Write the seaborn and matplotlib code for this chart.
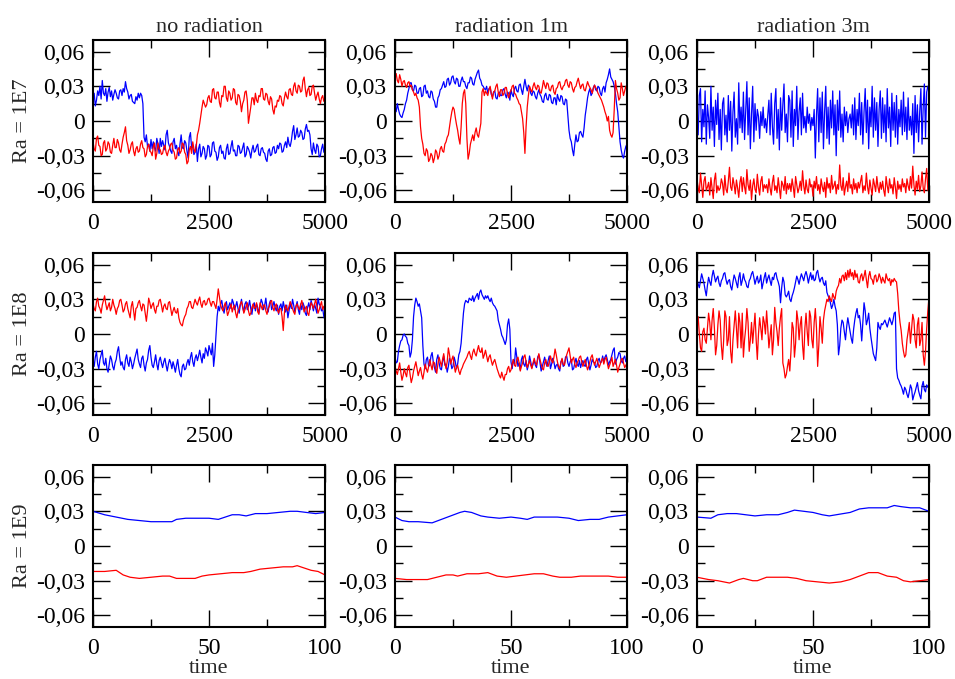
import numpy as np
import pandas as pd
import matplotlib
matplotlib.use("Agg")
import matplotlib.pyplot as plt
import seaborn as sns
from matplotlib.ticker import FixedLocator, FuncFormatter

sns.set_theme(style="ticks")
plt.rcParams["font.family"] = ["Liberation Serif", "DejaVu Serif"]

# -------------------------------------------------------------
# data (values in units of 1e-3)
# rows 1-2: samples evenly spaced over 0..5000 (20 per line = 500 time units)
# -------------------------------------------------------------
col_titles = ["no radiation", "radiation 1m", "radiation 3m"]
row_labels = ["Ra = 1E7", "Ra = 1E8", "Ra = 1E9"]

blue_1e7_norad = [
    20, 24, 13, 18, 26, 22, 30, 19, 35, 24, 22, 28, 17, 25, 29, 21, 26, 18, 23, 27,
    24, 20, 19, 26, 27, 22, 28, 25, 34, 28, 25, 19, 22, 23, 17, 16, 15, 21, 18, 24,
    20, 24, 22, 15, -14, -18, -12, -22, -20, -26, -16, -24, -18, -23, -26, -15, -20, -28, -15, -22,
    -17, -21, -25, -12, -8, -19, -22, -26, -28, -18, -15, -24, -21, -27, -30, -20, -12, -23, -24, -17,
    -19, -26, -32, -14, -10, -23, -22, -29, -27, -20, -35, -24, -20, -31, -28, -22, -24, -33, -30, -21,
    -22, -31, -29, -19, -18, -26, -27, -34, -31, -23, -21, -28, -26, -32, -33, -24, -20, -29, -28, -22,
    -17, -26, -25, -30, -30, -21, -22, -28, -27, -23, -19, -31, -29, -22, -24, -27, -32, -25, -21, -27,
    -26, -22, -20, -29, -30, -24, -23, -27, -28, -33, -35, -26, -24, -30, -29, -23, -22, -28, -27, -21,
    -24, -19, -20, -27, -26, -21, -18, -23, -14, -20, -22, -17, -9, -4, -16, -12, -6, -14, -13, -8,
    -10, -16, -15, -7, -3, -9, -8, -12, -24, -29, -19, -25, -28, -20, -22, -31, -30, -24, -20, -27,
    -24]
red_1e7_norad = [
    -18, -24, -26, -15, -13, -21, -22, -30, -29, -19, -17, -26, -24, -18, -20, -27, -28, -21, -15, -23,
    -23, -16, -19, -25, -27, -20, -14, -10, -5, -17, -21, -28, -25, -20, -18, -26, -30, -24, -22, -27,
    -26, -20, -17, -23, -24, -31, -29, -22, -20, -26, -27, -30, -22, -19, -33, -28, -19, -24, -25, -29,
    -28, -23, -21, -27, -30, -26, -24, -20, -19, -25, -27, -33, -32, -25, -23, -28, -26, -19, -20, -27,
    -29, -37, -35, -25, -22, -28, -18, -24, -27, -22, -12, -8, -2, 5, 12, 18, 15, 12, 14, 20,
    22, 17, 16, 27, 28, 20, 19, 25, 25, 16, 12, 22, 21, 30, 30, 20, 17, 26, 24, 18,
    20, 28, 27, 16, 14, 23, 22, 17, 8, 15, 18, 25, 26, 18, -2, 5, 12, 20, 20, 14,
    24, 18, 16, 22, 21, 28, 28, 19, 18, 24, 23, 17, 14, 21, 19, 10, 6, 13, 12, 18,
    17, 22, 21, 15, 13, 20, 25, 21, 19, 27, 28, 23, 22, 30, 33, 26, 24, 31, 30, 25,
    26, 35, 38, 28, 21, 27, 29, 22, 23, 30, 31, 24, 18, 22, 25, 19, 15, 20, 22, 17,
    19]

blue_1e7_rad1 = [
    12, 8, 15, 10, 6, 4, 3, 7, 10, 15, 18, 24, 28, 33, 33, 27, 26, 31, 30, 24,
    24, 28, 29, 21, 22, 30, 31, 24, 26, 21, 20, 26, 25, 19, 17, 12, 12, 20, 22, 27,
    28, 31, 34, 29, 30, 36, 37, 31, 33, 38, 39, 34, 32, 37, 36, 30, 30, 35, 38, 34,
    34, 30, 28, 33, 33, 38, 37, 32, 31, 36, 39, 42, 44, 37, 35, 31, 30, 28, 27, 30,
    24, 28, 29, 23, 21, 25, 26, 20, 19, 24, 25, 22, 22, 27, 28, 23, 20, 25, 24, 18,
    27, 23, 21, 28, 30, 26, 25, 31, 32, 27, 23, 30, 36, 30, 26, 31, 29, 24, 22, 26,
    25, 21, 19, 24, 27, 23, 21, 17, 16, 22, 24, 19, 18, 23, 22, 16, 15, 20, 20, 14,
    23, 19, 17, 22, 21, 15, 14, 19, 18, 5, -8, -15, -18, -25, -30, -20, -12, -18, -17, -10,
    -9, -12, -14, -6, 5, 12, 20, 25, 28, 22, 24, 29, 31, 27, 26, 30, 29, 24, 22, 28,
    30, 25, 33, 36, 40, 45, 38, 36, 34, 30, 24, 15, 8, -5, -18, -25, -30, -32, -26, -22,
    -20]
red_1e7_rad1 = [
    38, 41, 35, 33, 40, 36, 30, 34, 35, 31, 29, 33, 34, 30, 31, 27, 25, 22, 24, 20,
    18, 12, -5, -15, -20, -28, -30, -24, -26, -35, -33, -28, -30, -36, -32, -25, -27, -33, -30, -24,
    -22, -26, -27, -20, -18, -14, -12, -5, 2, 8, 12, 10, 3, -3, -8, -15, -20, -5, 15, 24,
    27, 15, -15, -33, -28, -20, -16, -12, -17, -10, -6, -12, -14, -8, -2, 25, 28, 22, 26, 24,
    22, 27, 30, 24, 19, 25, 26, 30, 32, 25, 21, 27, 27, 22, 24, 29, 29, 23, 20, 25,
    26, 30, 31, 24, 23, 20, 18, 15, 14, 8, 2, -10, -28, -5, 12, 22, 30, 27, 25, 30,
    33, 29, 27, 31, 30, 25, 24, 29, 35, 31, 28, 33, 32, 27, 26, 30, 31, 25, 23, 28,
    29, 33, 34, 29, 27, 30, 31, 35, 36, 31, 29, 34, 33, 28, 25, 29, 30, 34, 37, 32,
    28, 31, 32, 27, 26, 30, 34, 31, 29, 27, 24, 28, 31, 29, 27, 24, 22, 20, 18, 15,
    12, 8, 5, 0, 4, -8, -12, -14, -10, 10, 35, 28, 24, 18, 20, 33, 28, 22, 26, 30,
    28]

blue_1e7_rad3 = [
    5, -12, 22, 28, -18, 10, -5, 26, -20, 14, 3, -15, 30, -8, 12, -22, 18, -3, 24, -16,
    10, -25, 15, 20, -12, 5, -18, 22, -8, 17, -26, 8, 25, -14, 2, -20, 33, -6, 12, -10,
    25, -16, 8, 34, -12, 20, -24, 6, 30, -18, 15, -8, 10, 4, -15, 8, -4, 12, -6, 2,
    -10, 5, 18, -12, 24, -5, -20, 15, 28, -15, 10, -25, 20, -8, 14, 32, -10, 6, -18, 22,
    18, -14, 26, -22, 10, -4, 30, -16, 8, 20, -12, 24, -6, 4, -10, 12, -2, 6, -8, 3,
    -4, 10, -32, 5, 28, -18, 20, -10, 25, -24, 8, 30, -15, 12, -20, 18, -6, 26, -12, 14,
    -30, 18, -8, 26, -14, 6, -18, 12, -4, 8, -10, 2, 6, -6, 14, -12, 20, -16, 10, -4,
    24, -12, 16, -20, 8, 28, -10, 18, -24, 12, -5, 30, -14, 20, -8, 16, -22, 10, 26, -15,
    20, -10, 14, -18, 28, -6, 12, -22, 24, -8, 16, -14, 22, -20, 10, -5, 18, -12, 25, -9,
    12, -16, 20, -8, 4, -12, 15, -28, 22, -10, 14, -18, 8, 28, -20, 12, 32, -14, 25, 30,
    26]
red_1e7_rad3 = [
    -50, -58, -62, -45, -55, -66, -52, -48, -60, -57, -53, -64, -49, -58, -67, -51, -45, -62, -56, -60,
    -58, -50, -54, -64, -47, -59, -62, -52, -40, -57, -60, -49, -55, -63, -51, -58, -66, -53, -48, -61,
    -49, -57, -63, -42, -55, -60, -51, -68, -56, -50, -59, -62, -46, -57, -64, -52, -48, -61, -55, -58,
    -55, -62, -50, -58, -64, -53, -47, -60, -56, -62, -49, -58, -67, -52, -55, -60, -48, -63, -54, -59,
    -54, -61, -50, -57, -66, -48, -55, -62, -58, -52, -60, -43, -56, -63, -51, -59, -62, -50, -57, -55,
    -65, -52, -58, -48, -60, -55, -63, -50, -57, -61, -53, -66, -49, -58, -54, -62, -47, -59, -56, -52,
    -63, -55, -59, -38, -56, -60, -49, -64, -57, -52, -61, -45, -58, -55, -63, -50, -59, -54, -62, -53,
    -58, -52, -47, -62, -56, -60, -45, -57, -63, -51, -58, -64, -50, -55, -61, -48, -57, -62, -53, -59,
    -52, -60, -65, -48, -56, -62, -50, -58, -55, -63, -49, -57, -67, -52, -59, -55, -61, -50, -57, -54,
    -62, -50, -56, -60, -48, -58, -39, -55, -64, -52, -59, -47, -61, -56, -44, -58, -62, -50, -41, -60,
    -55]

blue_1e8_norad = [
    -24, -28, -20, -15, -26, -30, -22, -18, -14, -25, -27, -21, -30, -33, -26, -19, -22, -28, -31, -25,
    -22, -15, -11, -20, -27, -24, -29, -31, -22, -18, -25, -28, -20, -24, -30, -26, -21, -17, -13, -22,
    -26, -29, -21, -19, -27, -32, -25, -22, -14, -10, -20, -27, -29, -24, -18, -26, -31, -23, -20, -25,
    -29, -24, -21, -27, -32, -26, -22, -25, -30, -24, -28, -33, -27, -22, -30, -35, -37, -28, -26, -31,
    -30, -25, -22, -27, -20, -16, -24, -28, -21, -18, -23, -19, -14, -20, -25, -17, -21, -12, -15, -19,
    -10, -14, -18, -8, -28, -18, -2, 15, 24, 20, 26, 29, 22, 18, 25, 28, 21, 24, 27, 22,
    30, 27, 21, 24, 28, 22, 18, 25, 30, 23, 19, 26, 28, 21, 24, 29, 22, 17, 25, 27,
    20, 26, 23, 18, 24, 30, 27, 21, 25, 31, 22, 19, 26, 29, 21, 24, 28, 23, 20, 25,
    17, 24, 26, 20, 28, 23, 19, 25, 14, 20, 27, 22, 30, 25, 19, 24, 28, 21, 17, 26,
    21, 27, 24, 18, 16, 23, 27, 21, 29, 25, 20, 26, 22, 18, 31, 26, 24, 20, 22, 15,
    12]
red_1e8_norad = [
    26, 22, 20, 28, 31, 24, 22, 18, 25, 29, 33, 26, 21, 24, 27, 20, 23, 30, 25, 22,
    17, 22, 24, 29, 30, 25, 19, 21, 26, 28, 22, 18, 14, 24, 28, 20, 12, 22, 23, 27,
    29, 24, 20, 26, 25, 18, 11, 20, 31, 27, 22, 25, 27, 21, 18, 24, 24, 29, 30, 25,
    19, 24, 26, 22, 21, 27, 28, 22, 16, 20, 23, 19, 18, 22, 14, 10, 8, 7, 12, 15,
    17, 22, 24, 28, 28, 23, 22, 26, 30, 27, 25, 29, 32, 26, 23, 28, 29, 25, 26, 30,
    31, 27, 24, 28, 28, 25, 22, 30, 39, 32, 25, 22, 20, 24, 27, 22, 16, 19, 23, 26,
    19, 23, 25, 18, 14, 20, 22, 26, 28, 24, 18, 21, 24, 27, 20, 16, 18, 23, 26, 22,
    23, 27, 19, 17, 27, 24, 21, 25, 25, 20, 17, 22, 24, 28, 29, 23, 20, 24, 26, 21,
    18, 22, 22, 15, 3, 18, 25, 22, 20, 24, 28, 25, 22, 19, 17, 24, 26, 23, 21, 25,
    29, 24, 19, 22, 24, 18, 16, 23, 27, 25, 22, 26, 30, 24, 18, 21, 25, 28, 21, 24,
    23]

blue_1e8_rad1 = [
    -20, -25, -24, -15, -10, -6, -5, -1, 0, -2, -3, -8, -10, -20, -16, -5, 15, 25, 31, 28,
    24, 26, 20, 14, -10, -26, -30, -22, -20, -28, -27, -19, -16, -24, -29, -33, -22, -18, -25, -30,
    -31, -24, -19, -27, -26, -33, -28, -21, -24, -30, -28, -20, -24, -30, -26, -18, -15, -8, 5, 18,
    26, 29, 28, 27, 31, 30, 29, 33, 28, 31, 33, 35, 30, 36, 38, 34, 32, 30, 33, 31,
    33, 30, 28, 31, 27, 25, 24, 22, 20, 12, 8, 4, -1, -3, -6, -9, -5, 8, 13, 4,
    -24, -30, -22, -26, -12, -20, -28, -25, -31, -22, -19, -26, -28, -23, -31, -27, -19, -24, -29, -26,
    -23, -27, -29, -20, -18, -25, -32, -28, -24, -20, -25, -28, -23, -19, -30, -26, -21, -24, -30, -27,
    -26, -30, -32, -24, -22, -28, -27, -20, -19, -25, -28, -24, -22, -31, -30, -25, -21, -26, -28, -23,
    -29, -25, -23, -27, -28, -22, -20, -26, -31, -27, -22, -24, -25, -29, -28, -23, -21, -25, -24, -19,
    -24, -20, -18, -22, -27, -24, -22, -18, -14, -12, -26, -22, -20, -16, -17, -23, -25, -21, -19, -24,
    -23]
red_1e8_rad1 = [
    -28, -32, -35, -30, -25, -33, -40, -36, -30, -34, -37, -29, -27, -35, -42, -38, -32, -28, -24, -30,
    -36, -32, -29, -35, -39, -33, -26, -30, -33, -28, -22, -27, -31, -24, -25, -30, -34, -26, -20, -24,
    -28, -22, -17, -25, -30, -24, -12, -18, -26, -22, -19, -27, -33, -29, -27, -32, -35, -31, -29, -26,
    -24, -22, -20, -17, -15, -19, -22, -16, -13, -17, -19, -14, -10, -15, -16, -12, -21, -18, -14, -19,
    -24, -20, -18, -23, -27, -24, -22, -26, -30, -33, -36, -38, -33, -37, -40, -35, -35, -30, -28, -33,
    -31, -26, -22, -27, -28, -22, -20, -25, -32, -28, -25, -20, -18, -24, -29, -26, -23, -27, -30, -25,
    -21, -25, -27, -22, -17, -22, -26, -30, -31, -25, -22, -27, -28, -24, -19, -23, -25, -20, -13, -18,
    -24, -28, -30, -25, -21, -26, -27, -22, -18, -15, -12, -19, -25, -22, -20, -26, -29, -25, -23, -20,
    -19, -24, -28, -25, -22, -27, -31, -28, -24, -20, -18, -23, -27, -24, -21, -25, -29, -26, -23, -21,
    -26, -22, -20, -25, -30, -27, -24, -20, -28, -25, -22, -27, -33, -29, -26, -22, -21, -25, -29, -27,
    -25]

blue_1e8_rad3 = [
    47, 43, 40, 46, 52, 48, 44, 38, 33, 42, 49, 45, 42, 50, 55, 50, 45, 48, 50, 44,
    41, 46, 48, 52, 53, 47, 43, 46, 47, 41, 38, 45, 51, 48, 44, 40, 49, 53, 42, 46,
    52, 47, 45, 41, 40, 46, 48, 52, 54, 49, 43, 47, 50, 44, 46, 51, 39, 44, 49, 53,
    44, 48, 51, 46, 42, 49, 47, 52, 53, 48, 45, 41, 27, 40, 49, 45, 34, 32, 34, 37,
    30, 28, 33, 36, 40, 45, 50, 47, 43, 48, 52, 49, 46, 51, 54, 50, 44, 49, 53, 47,
    51, 46, 47, 53, 55, 49, 45, 48, 49, 44, 42, 46, 36, 33, 31, 27, 22, 25, 30, 24,
    20, 8, -18, -10, 5, 12, 10, 2, -5, 6, 14, 8, 2, -4, -8, 4, 12, 18, 22, 14,
    16, 8, -6, 10, 27, 20, 8, 12, 18, 5, -3, -10, -17, -20, -23, -12, 10, 6, 4, 9,
    8, 10, 12, 9, 6, 10, 14, 11, 8, 12, 18, 19, -30, -38, -40, -43, -45, -48, -52, -46,
    -48, -52, -55, -50, -44, -47, -57, -53, -50, -46, -42, -49, -53, -56, -45, -41, -48, -50, -44, -46,
    -44]
red_1e8_rad3 = [
    10, 15, 0, -12, -15, 2, 5, -5, -8, 5, 18, 10, -5, 12, 22, 5, -18, -10, 8, 20,
    12, -10, -22, -5, 20, 15, -10, -5, 15, -15, -25, -5, 8, 20, 5, -12, 18, 10, -12, 18,
    -20, -5, 5, 22, 10, -15, -5, 10, -8, 5, 18, -5, -22, 0, 14, 5, -5, 15, 10, 0,
    20, 5, -12, -2, 8, -18, -5, 23, 10, 2, -10, 5, 15, 22, -25, -30, -38, -35, -28, -22,
    -32, -15, 10, 5, -20, -8, 20, 12, -5, 8, 15, -10, -22, 5, 18, 2, -10, 20, 15, -5,
    -12, 10, 22, 5, -28, -10, 15, 5, -8, 12, 20, 25, 30, 28, 33, 30, 28, 35, 32, 30,
    37, 40, 42, 48, 44, 50, 51, 46, 53, 47, 55, 49, 56, 50, 53, 47, 55, 49, 52, 45,
    44, 50, 52, 46, 50, 55, 47, 40, 50, 54, 48, 47, 43, 50, 51, 45, 47, 52, 49, 44,
    49, 46, 44, 52, 48, 46, 48, 42, 47, 45, 48, 46, 45, 35, 20, 10, 3, -8, -15, -20,
    -18, -5, 2, 10, -8, 5, 17, 12, -5, -12, 8, 14, -10, -5, 10, -18, -27, -15, 5, 20,
    32]

# row 3: short smooth runs, time 0..100
time_1e9_norad = [0, 5, 10, 15, 20, 25, 30, 34, 36, 40, 45, 50, 54, 57,
                  60, 63, 66, 70, 75, 80, 85, 88, 92, 96, 100]
blue_1e9_norad = [30, 27, 25, 23, 22, 21, 21, 21, 23, 24, 24, 24, 23, 25,
                  27, 27, 26, 28, 28, 29, 30, 30, 29, 28, 29]
time_1e9_norad_r = [0, 5, 10, 13, 16, 20, 25, 30, 33, 36, 40, 44, 47, 50,
                    55, 60, 65, 68, 72, 77, 82, 86, 88, 91, 94, 97, 100]
red_1e9_norad = [-22, -22, -21, -25, -27, -28, -27, -26, -26, -28, -28, -28,
                 -26, -25, -24, -23, -23, -22, -20, -19, -18, -18, -17, -19,
                 -21, -22, -25]

time_1e9_rad1 = [0, 3, 6, 10, 16, 20, 24, 28, 30, 33, 37, 40, 45, 50, 54,
                 57, 60, 65, 70, 75, 79, 84, 88, 92, 96, 100]
blue_1e9_rad1 = [25, 22, 21, 21, 20, 23, 26, 29, 30, 29, 26, 25, 24, 25, 24,
                 23, 25, 25, 25, 24, 22, 23, 23, 25, 26, 27]
time_1e9_rad1_r = [0, 5, 10, 14, 18, 22, 25, 27, 31, 36, 40, 44, 48, 52, 56,
                   60, 64, 68, 71, 76, 80, 84, 88, 92, 96, 100]
red_1e9_rad1 = [-28, -29, -29, -29, -27, -25, -25, -26, -24, -24, -23, -26,
                -27, -26, -25, -24, -24, -26, -27, -27, -26, -26, -26, -26,
                -27, -27]

time_1e9_rad3 = [0, 6, 9, 13, 17, 21, 25, 30, 35, 39, 42, 46, 50, 54, 57,
                 60, 63, 66, 70, 74, 78, 82, 85, 88, 92, 96, 100]
blue_1e9_rad3 = [25, 24, 27, 28, 28, 27, 26, 27, 27, 29, 31, 30, 29, 27, 26,
                 27, 28, 29, 32, 33, 33, 33, 35, 34, 33, 33, 30]
time_1e9_rad3_r = [0, 5, 9, 14, 18, 20, 24, 26, 30, 35, 39, 43, 47, 52, 57,
                   62, 66, 70, 74, 78, 82, 86, 89, 92, 96, 100]
red_1e9_rad3 = [-27, -29, -30, -32, -29, -28, -30, -30, -27, -27, -27, -28,
                -30, -31, -32, -31, -29, -26, -23, -23, -26, -27, -30, -31,
                -30, -29]

long_blue = [[blue_1e7_norad, blue_1e7_rad1, blue_1e7_rad3],
             [blue_1e8_norad, blue_1e8_rad1, blue_1e8_rad3]]
long_red = [[red_1e7_norad, red_1e7_rad1, red_1e7_rad3],
            [red_1e8_norad, red_1e8_rad1, red_1e8_rad3]]
short_runs = [
    (time_1e9_norad, blue_1e9_norad, time_1e9_norad_r, red_1e9_norad),
    (time_1e9_rad1, blue_1e9_rad1, time_1e9_rad1_r, red_1e9_rad1),
    (time_1e9_rad3, blue_1e9_rad3, time_1e9_rad3_r, red_1e9_rad3),
]


def panel_frame(tb, vb, tr, vr):
    blue = pd.DataFrame({"time": tb, "value": np.array(vb) * 1e-3, "series": "blue"})
    red = pd.DataFrame({"time": tr, "value": np.array(vr) * 1e-3, "series": "red"})
    return pd.concat([blue, red], ignore_index=True)


def fmt_y(v, pos):
    if abs(v) < 1e-9:
        return "0"
    return f"{v:.2f}".replace(".", ",")


FIG_W, FIG_H = 955, 679
col_left = [93, 395, 697]
row_top = [40, 253, 465]
ax_w, ax_h = 232, 162

fig = plt.figure(figsize=(FIG_W / 100, FIG_H / 100), dpi=100)
palette = {"blue": "#0000ff", "red": "#ff0000"}

for r in range(3):
    for c in range(3):
        ax = fig.add_axes([col_left[c] / FIG_W, 1 - (row_top[r] + ax_h) / FIG_H,
                           ax_w / FIG_W, ax_h / FIG_H])
        if r < 2:
            vb = long_blue[r][c]
            vr = long_red[r][c]
            df = panel_frame(np.linspace(0, 5000, len(vb)), vb,
                             np.linspace(0, 5000, len(vr)), vr)
            xmax = 5000
        else:
            df = panel_frame(*short_runs[c])
            xmax = 100

        sns.lineplot(data=df, x="time", y="value", hue="series", palette=palette,
                     estimator=None, legend=False, lw=0.9, ax=ax)

        ax.set_xlim(0, xmax)
        ax.set_ylim(-0.07, 0.07)
        ax.xaxis.set_major_locator(FixedLocator([0, xmax / 2, xmax]))
        ax.xaxis.set_minor_locator(FixedLocator([xmax / 4, 3 * xmax / 4]))
        ax.xaxis.set_major_formatter(FuncFormatter(lambda v, p: f"{v:.0f}"))
        ax.yaxis.set_major_locator(FixedLocator([-0.06, -0.03, 0, 0.03, 0.06]))
        ax.yaxis.set_minor_locator(FixedLocator([-0.045, -0.015, 0.015, 0.045]))
        ax.yaxis.set_major_formatter(FuncFormatter(fmt_y))
        ax.tick_params(which="both", direction="in", top=True, right=True,
                       colors="black", labelsize=17)
        ax.tick_params(which="major", length=12, width=1.0)
        ax.tick_params(which="minor", length=6, width=1.0)
        ax.tick_params(axis="y", pad=6)
        ax.tick_params(axis="x", pad=8)
        for s in ax.spines.values():
            s.set_linewidth(1.5)
            s.set_color("black")

        ax.set_xlabel("time" if r == 2 else "", fontsize=16, labelpad=0)
        if c == 0:
            ax.set_ylabel(row_labels[r], fontsize=16, labelpad=3)
        else:
            ax.set_ylabel("")
        if r == 0:
            ax.set_title(col_titles[c], fontsize=16, pad=6)

fig.savefig("out.png", dpi=100)
